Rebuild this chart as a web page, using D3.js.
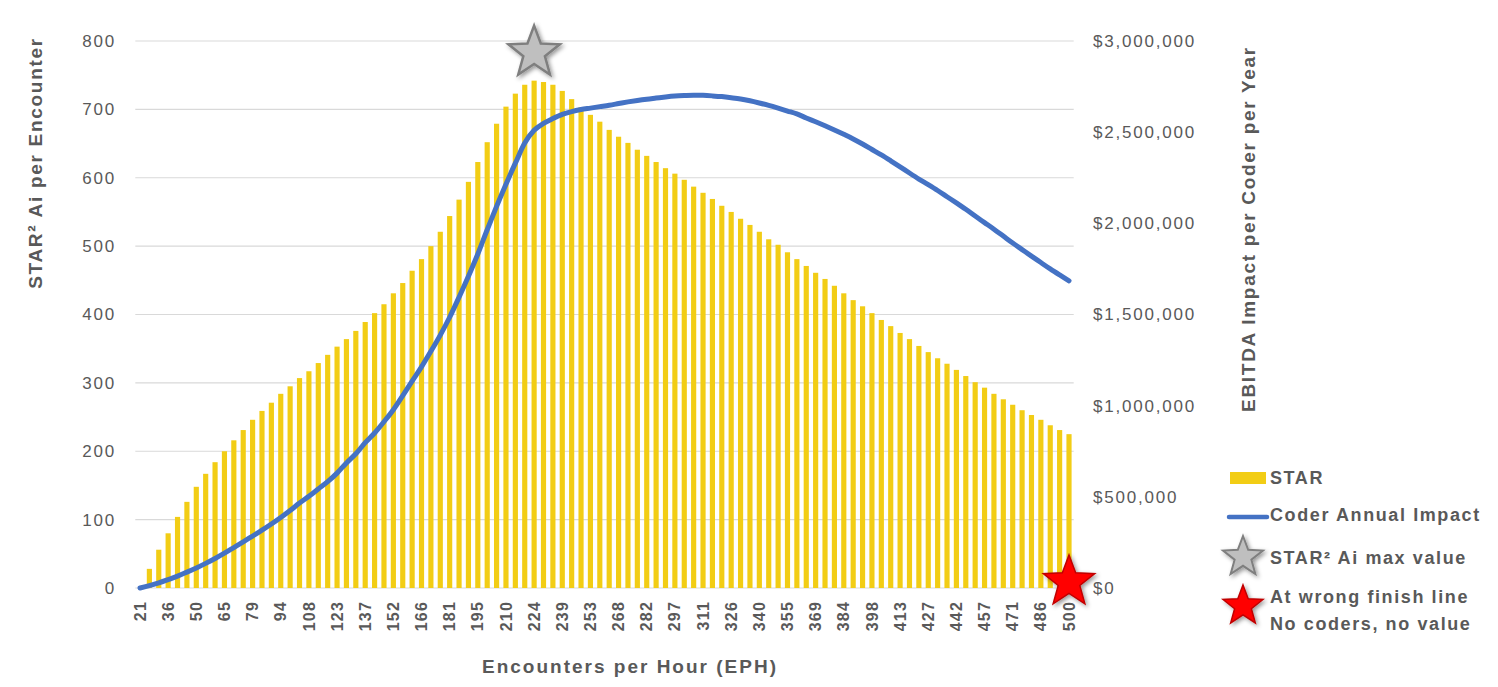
<!DOCTYPE html>
<html>
<head>
<meta charset="utf-8">
<script src="https://cdn.jsdelivr.net/npm/d3@7"></script>
<style>
  body { margin: 0; background: #fff; }
  text { font-family: "Liberation Sans", Arial, sans-serif; fill: #595959; }
</style>
</head>
<body>
<div id="vis"></div>
<script>
// Encounters per hour (x categories)
const eph = [21, 26, 31, 36, 40, 45, 50, 55, 60, 65,
  69, 74, 79, 84, 89, 94, 98, 103, 108, 113,
  118, 123, 127, 132, 137, 142, 147, 152, 156, 161,
  166, 171, 176, 181, 186, 190, 195, 200, 205, 210,
  215, 219, 224, 229, 234, 239, 244, 248, 253, 258,
  263, 268, 273, 277, 282, 287, 292, 297, 302, 306,
  311, 316, 321, 326, 331, 335, 340, 345, 350, 355,
  360, 365, 369, 374, 379, 384, 389, 394, 398, 403,
  408, 413, 418, 423, 427, 432, 437, 442, 447, 452,
  457, 461, 466, 471, 476, 481, 486, 490, 495, 500];

// STAR² Ai per encounter (bars, left axis)
const starValues = [0, 28, 56, 80, 104, 126, 148, 167, 184, 200,
  216, 231, 246, 259, 271, 284, 295, 307, 317, 329,
  341, 353, 364, 376, 389, 402, 415, 431, 446, 464,
  481, 500, 521, 544, 568, 594, 623, 652, 679, 704,
  723, 736, 742, 740, 736, 727, 715, 703, 692, 682,
  670, 660, 651, 641, 632, 623, 614, 606, 597, 587,
  578, 569, 559, 550, 540, 531, 521, 510, 502, 491,
  481, 471, 461, 452, 442, 431, 421, 412, 402, 392,
  383, 373, 364, 354, 345, 336, 328, 319, 310, 301,
  293, 284, 276, 268, 260, 253, 246, 238, 231, 225];

// Coder annual impact in dollars (line, right axis)
const coderImpact = [0, 13000, 28000, 46000, 65000, 87000, 110000, 135000, 162000, 191000,
  222000, 253000, 285000, 317000, 351000, 387000, 425000, 466000, 503000, 543000,
  583000, 630000, 686000, 736000, 797000, 850000, 912000, 978000, 1055000, 1135000,
  1213000, 1298000, 1387000, 1485000, 1595000, 1710000, 1832000, 1965000, 2093000, 2215000,
  2330000, 2440000, 2510000, 2548000, 2575000, 2598000, 2613000, 2624000, 2632000, 2640000,
  2648000, 2657000, 2666000, 2674000, 2681000, 2687000, 2693000, 2698000, 2701000, 2703000,
  2702000, 2699000, 2695000, 2689000, 2682000, 2672000, 2660000, 2647000, 2632000, 2616000,
  2600000, 2578000, 2557000, 2535000, 2512000, 2488000, 2463000, 2435000, 2405000, 2375000,
  2343000, 2310000, 2276000, 2243000, 2212000, 2180000, 2146000, 2112000, 2077000, 2040000,
  2004000, 1968000, 1930000, 1892000, 1856000, 1820000, 1785000, 1750000, 1717000, 1685000];

const leftTicks = [0, 100, 200, 300, 400, 500, 600, 700, 800];
const rightTicks = [0, 500000, 1000000, 1500000, 2000000, 2500000, 3000000];

const FRAME_WIDTH = 1498;
const FRAME_HEIGHT = 687;
const PLOT = {left: 135.3, right: 1073.7, top: 41, bottom: 588};

const BAR_COLOR = "#F2CD15";
const LINE_COLOR = "#4472C4";
const GRID_COLOR = "#D9D9D9";

const FRAME = d3.select("#vis")
  .append("svg")
    .attr("width", FRAME_WIDTH)
    .attr("height", FRAME_HEIGHT);

// drop shadow for the stars
const defs = FRAME.append("defs");
defs.append("filter")
    .attr("id", "shadow")
    .attr("x", "-50%").attr("y", "-50%")
    .attr("width", "200%").attr("height", "200%")
  .append("feDropShadow")
    .attr("dx", 2).attr("dy", 2)
    .attr("stdDeviation", 2)
    .attr("flood-opacity", 0.4);

const data = eph.map((d, i) => ({cat: d, star: starValues[i], impact: coderImpact[i]}));

const X_SCALE = d3.scaleBand()
  .domain(eph)
  .range([PLOT.left, PLOT.right])
  .paddingInner(0.45)
  .paddingOuter(0.225);

const Y_LEFT = d3.scaleLinear()
  .domain([0, 800])
  .range([PLOT.bottom, PLOT.top]);

const Y_RIGHT = d3.scaleLinear()
  .domain([0, 3000000])
  .range([PLOT.bottom, PLOT.top]);

const cx = d => X_SCALE(d) + X_SCALE.bandwidth() / 2;

// gridlines
FRAME.append("g")
  .selectAll("line")
  .data(leftTicks)
  .enter()
  .append("line")
    .attr("x1", PLOT.left)
    .attr("x2", PLOT.right)
    .attr("y1", d => Y_LEFT(d))
    .attr("y2", d => Y_LEFT(d))
    .attr("stroke", GRID_COLOR)
    .attr("stroke-width", 1.2);

// left axis labels
FRAME.append("g")
  .selectAll("text")
  .data(leftTicks)
  .enter()
  .append("text")
    .attr("x", 116)
    .attr("y", d => Y_LEFT(d))
    .attr("dy", "0.35em")
    .attr("text-anchor", "end")
    .attr("font-size", "17px")
    .attr("letter-spacing", "1.8px")
    .text(d => d);

// right axis labels
const fmt = d3.format("$,");
FRAME.append("g")
  .selectAll("text")
  .data(rightTicks)
  .enter()
  .append("text")
    .attr("x", 1093)
    .attr("y", d => Y_RIGHT(d))
    .attr("dy", "0.35em")
    .attr("font-size", "17px")
    .attr("letter-spacing", "1.8px")
    .text(d => fmt(d));

// bars
FRAME.append("g")
  .selectAll("rect")
  .data(data)
  .enter()
  .append("rect")
    .attr("x", d => X_SCALE(d.cat))
    .attr("y", d => Y_LEFT(d.star))
    .attr("width", X_SCALE.bandwidth())
    .attr("height", d => PLOT.bottom - Y_LEFT(d.star))
    .attr("fill", BAR_COLOR);

// x labels, every third category
FRAME.append("g")
  .selectAll("text")
  .data(eph.filter((d, i) => i % 3 === 0))
  .enter()
  .append("text")
    .attr("transform", d => "translate(" + cx(d) + ",601) rotate(-90)")
    .attr("dy", "0.35em")
    .attr("text-anchor", "end")
    .attr("font-size", "16px")
    .attr("font-weight", "bold")
    .attr("letter-spacing", "1.2px")
    .text(d => d);

// coder annual impact line
const line = d3.line()
  .x(d => cx(d.cat))
  .y(d => Y_RIGHT(d.impact))
  .curve(d3.curveMonotoneX);

FRAME.append("path")
  .datum(data)
  .attr("d", line)
  .attr("fill", "none")
  .attr("stroke", LINE_COLOR)
  .attr("stroke-width", 5)
  .attr("stroke-linecap", "round")
  .attr("stroke-linejoin", "round");

// five point star path centred on 0,0
function starPath(R, ratio) {
  const pts = [];
  for (let k = 0; k < 10; k++) {
    const r = k % 2 === 0 ? R : R * ratio;
    const a = -Math.PI / 2 + k * Math.PI / 5;
    pts.push([r * Math.cos(a), r * Math.sin(a)]);
  }
  return "M" + pts.map(p => p.join(",")).join("L") + "Z";
}

// grey star over the max bar
const maxIdx = d3.maxIndex(starValues);
FRAME.append("path")
  .attr("d", starPath(27, 0.42))
  .attr("transform", "translate(" + cx(eph[maxIdx]) + "," + (Y_LEFT(starValues[maxIdx]) - 28) + ")")
  .attr("fill", "#BFBFBF")
  .attr("stroke", "#7F7F7F")
  .attr("stroke-width", 2.5)
  .attr("filter", "url(#shadow)");

// red star at the last category
const last = eph[eph.length - 1];
FRAME.append("path")
  .attr("d", starPath(27, 0.42))
  .attr("transform", "translate(" + cx(last) + "," + (Y_LEFT(0) - 6) + ")")
  .attr("fill", "#FF0000")
  .attr("stroke", "#C00000")
  .attr("stroke-width", 1.5)
  .attr("filter", "url(#shadow)");

// axis titles
FRAME.append("text")
  .attr("transform", "translate(35,163) rotate(-90)")
  .attr("dy", "0.35em")
  .attr("text-anchor", "middle")
  .attr("font-size", "19px")
  .attr("font-weight", "bold")
  .attr("letter-spacing", "1.7px")
  .text("STAR² Ai per Encounter");

FRAME.append("text")
  .attr("transform", "translate(1248,229) rotate(-90)")
  .attr("dy", "0.35em")
  .attr("text-anchor", "middle")
  .attr("font-size", "19px")
  .attr("font-weight", "bold")
  .attr("letter-spacing", "1.7px")
  .text("EBITDA Impact per Coder per Year");

FRAME.append("text")
  .attr("x", 630)
  .attr("y", 666)
  .attr("dy", "0.35em")
  .attr("text-anchor", "middle")
  .attr("font-size", "19px")
  .attr("font-weight", "bold")
  .attr("letter-spacing", "2px")
  .text("Encounters per Hour (EPH)");

// legend
const LEG = FRAME.append("g");
const legendText = (y, s) => LEG.append("text")
  .attr("x", 1270)
  .attr("y", y)
  .attr("dy", "0.35em")
  .attr("font-size", "18px")
  .attr("font-weight", "bold")
  .attr("letter-spacing", "1.6px")
  .text(s);

LEG.append("rect")
  .attr("x", 1230).attr("y", 472)
  .attr("width", 36).attr("height", 12)
  .attr("fill", BAR_COLOR);
legendText(478, "STAR");

LEG.append("line")
  .attr("x1", 1229).attr("x2", 1267)
  .attr("y1", 517).attr("y2", 517)
  .attr("stroke", LINE_COLOR)
  .attr("stroke-width", 4.5)
  .attr("stroke-linecap", "round");
legendText(515, "Coder Annual Impact");

LEG.append("path")
  .attr("d", starPath(21, 0.42))
  .attr("transform", "translate(1243,557)")
  .attr("fill", "#BFBFBF")
  .attr("stroke", "#7F7F7F")
  .attr("stroke-width", 2)
  .attr("filter", "url(#shadow)");
legendText(558, "STAR² Ai max value");

LEG.append("path")
  .attr("d", starPath(21, 0.42))
  .attr("transform", "translate(1243,606)")
  .attr("fill", "#FF0000")
  .attr("stroke", "#C00000")
  .attr("stroke-width", 1.5)
  .attr("filter", "url(#shadow)");
legendText(597, "At wrong finish line");
legendText(624, "No coders, no value");
</script>
</body>
</html>
